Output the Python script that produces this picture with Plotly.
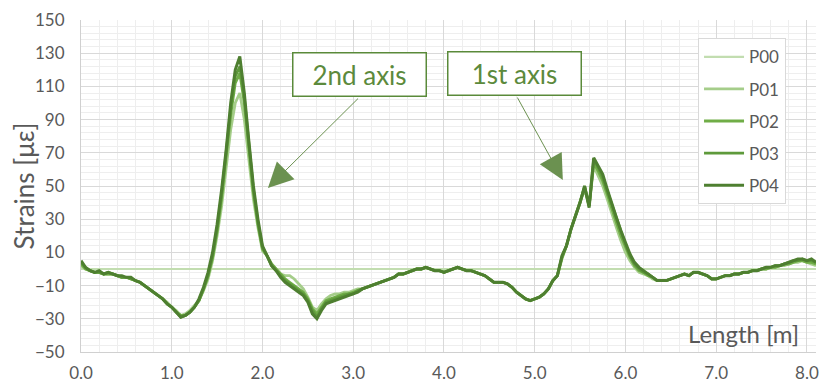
import numpy as np
import plotly.graph_objects as go

# Sampling positions along the beam [m]
LENGTH = np.round(np.arange(0, 8.1001, 0.05), 2)

P04 = [5, 1, -1, -2, -1, -3, -2, -3, -4, -4,
       -5, -5, -7, -8, -10, -12, -14, -16, -18, -21,
       -23, -26, -29, -28, -26, -23, -18, -11, -2, 10,
       27, 48, 72, 100, 120, 128, 106, 77, 50, 30,
       14, 8, 2, -1, -5, -8, -10, -12, -14, -16,
       -20, -27, -30, -25, -21, -20, -19, -18, -17, -16,
       -15, -14, -12, -11, -10, -9, -8, -7, -6, -5,
       -3, -3, -2, -1, 0, 0, 1, 0, -1, -1,
       -2, -1, 0, 1, 0, -1, -1, -2, -3, -4,
       -6, -8, -8, -8, -9, -11, -14, -16, -18, -19,
       -18, -17, -15, -12, -7, -4, 8, 14, 24, 32,
       40, 50, 37, 67, 62, 57, 48, 39, 31, 23,
       16, 9, 4, 1, -1, -3, -5, -7, -7, -7,
       -6, -5, -4, -3, -4, -2, -2, -3, -4, -6,
       -6, -5, -4, -4, -3, -3, -2, -2, -1, -1,
       0, 1, 1, 2, 2, 3, 4, 5, 6, 6,
       5, 6, 4]

P03 = [4, 1, -1, -2, -2, -3, -2, -3, -4, -5,
       -5, -6, -7, -8, -10, -12, -14, -16, -18, -21,
       -23, -26, -29, -28, -26, -23, -19, -12, -4, 8,
       24, 45, 69, 96, 116, 122, 103, 75, 48, 28,
       13, 8, 2, -1, -4, -7, -9, -11, -13, -15,
       -19, -25, -29, -24, -20, -19, -18, -17, -16, -15,
       -15, -13, -12, -11, -10, -9, -8, -7, -6, -5,
       -3, -3, -2, -1, 0, 0, 1, 0, -1, -1,
       -2, -1, 0, 1, 0, -1, -1, -2, -3, -4,
       -6, -8, -8, -8, -9, -11, -14, -16, -18, -19,
       -18, -17, -15, -12, -7, -4, 7, 14, 24, 32,
       40, 50, 38, 66, 61, 55, 47, 38, 30, 22,
       15, 8, 3, 0, -2, -3, -5, -7, -7, -7,
       -6, -5, -4, -3, -4, -2, -2, -3, -4, -6,
       -6, -5, -4, -4, -3, -3, -2, -2, -1, -1,
       0, 1, 1, 2, 2, 3, 4, 5, 5, 6,
       5, 5, 4]

P02 = [3, 0, -1, -2, -2, -3, -3, -3, -4, -5,
       -5, -6, -7, -8, -10, -12, -14, -16, -18, -21,
       -23, -26, -28, -28, -26, -23, -19, -12, -4, 7,
       23, 43, 67, 93, 112, 118, 100, 72, 46, 27,
       12, 8, 3, 0, -3, -6, -8, -10, -12, -14,
       -18, -24, -27, -23, -19, -18, -17, -16, -15, -15,
       -14, -13, -12, -11, -10, -9, -8, -7, -6, -5,
       -3, -3, -2, -1, 0, 0, 1, 0, -1, -1,
       -2, -1, 0, 1, 0, -1, -1, -2, -3, -4,
       -6, -8, -8, -8, -9, -11, -14, -16, -18, -19,
       -18, -17, -15, -12, -7, -4, 7, 14, 24, 32,
       40, 49, 38, 64, 59, 53, 45, 36, 28, 20,
       13, 7, 2, -1, -2, -4, -5, -7, -7, -7,
       -6, -5, -4, -3, -4, -2, -2, -3, -4, -6,
       -6, -5, -4, -4, -3, -3, -2, -2, -1, -1,
       0, 0, 1, 1, 2, 3, 3, 4, 5, 5,
       4, 4, 3]

P01 = [2, 0, -1, -2, -2, -3, -3, -3, -4, -5,
       -5, -6, -7, -8, -10, -12, -14, -16, -18, -20,
       -23, -25, -28, -27, -25, -22, -19, -13, -6, 5,
       20, 38, 60, 84, 100, 106, 90, 65, 42, 25,
       11, 8, 3, 0, -3, -4, -4, -6, -9, -12,
       -17, -23, -25, -21, -18, -16, -15, -15, -14, -14,
       -13, -12, -12, -11, -10, -9, -8, -7, -6, -5,
       -3, -3, -2, -1, 0, 0, 1, 0, -1, -1,
       -2, -1, 0, 1, 0, -1, -1, -2, -3, -4,
       -6, -8, -8, -8, -9, -11, -14, -16, -18, -19,
       -18, -17, -15, -12, -7, -4, 6, 14, 24, 32,
       39, 48, 38, 62, 56, 50, 42, 33, 25, 17,
       10, 5, 1, -2, -3, -4, -6, -7, -7, -7,
       -6, -5, -4, -3, -4, -2, -2, -3, -4, -6,
       -6, -5, -4, -4, -3, -3, -2, -2, -1, -1,
       0, 0, 1, 1, 2, 2, 3, 4, 4, 5,
       4, 3, 2]

P00 = [0.0] * len(LENGTH)  # reference measurement (baseline)

SERIES = ["P00", "P01", "P02", "P03", "P04"]
VALUES = [P00, P01, P02, P03, P04]
COLORS = ["#c2ddb0", "#a5cd8a", "#70ad47", "#5e9a3b", "#4e7f30"]
WIDTHS = [2.2, 2.8, 2.8, 2.8, 3.0]

X_TICKS = [0, 1, 2, 3, 4, 5, 6, 7, 8]
Y_TICKS = [-50, -30, -10, 10, 30, 50, 70, 90, 110, 130, 150]

fig = go.Figure()
for name, vals, col, w in zip(SERIES, VALUES, COLORS, WIDTHS):
    fig.add_trace(go.Scatter(x=LENGTH, y=vals, mode="lines", name=name,
                             legendgroup=name,
                             line=dict(color=col, width=w)))

txt = "#595959"
# page body has an 8px margin, so the figure is sized/margined to compensate
fig.update_layout(
    width=822, height=373,
    margin=dict(l=73, r=14, t=12, b=29),
    plot_bgcolor="white", paper_bgcolor="white",
    font=dict(family="Lato", color=txt),
    legend=dict(x=0.8395, y=0.945, xanchor="left", yanchor="top",
                bordercolor="#d9d9d9", borderwidth=1, bgcolor="white",
                font=dict(size=17, color=txt), tracegroupgap=7,
                itemwidth=40, entrywidth=40),
    xaxis=dict(range=[0, 8.1], tickvals=X_TICKS, tickformat=".1f",
               showgrid=True, gridcolor="#d9d9d9", gridwidth=1,
               minor=dict(dtick=0.2, tick0=0, showgrid=True, gridcolor="#eeeeee"),
               showline=True, linecolor="#d0d0d0", zeroline=False, automargin=False,
               tickfont=dict(size=17, color=txt), ticklabelstandoff=6),
    yaxis=dict(range=[-50, 150], tickvals=Y_TICKS,
               showgrid=True, gridcolor="#d9d9d9", gridwidth=1,
               minor=dict(dtick=4, tick0=-50, showgrid=True, gridcolor="#eeeeee"),
               showline=True, linecolor="#d0d0d0", zeroline=False, automargin=False,
               tickfont=dict(size=17, color=txt), ticklabelstandoff=12,
               title=dict(text="Strains [με]", font=dict(size=26, color=txt), standoff=4)),
)

green_txt = "#5c8a3c"
box_col = "#5a8a3a"
arrow_col = "#6b9150"
# Label boxes
for label, bx, by in [("2nd axis", 3.07, 117.2), ("1st axis", 4.78, 117.8)]:
    fig.add_annotation(x=bx, y=by, xref="x", yref="y", text=label, showarrow=False,
                       font=dict(size=26, color=green_txt, family="Lato"),
                       bordercolor=box_col, borderwidth=1.5, borderpad=2,
                       bgcolor="white", width=128, height=38)
# Arrows
for tail_x, tail_y, tip_x, tip_y in [(3.07, 103.6, 2.06, 48.8), (4.80, 104.2, 5.31, 53.6)]:
    fig.add_annotation(x=tip_x, y=tip_y, ax=tail_x, ay=tail_y, xref="x", yref="y",
                       axref="x", ayref="y", text="", showarrow=True,
                       arrowhead=2, arrowsize=5, arrowwidth=1.0, arrowcolor=arrow_col)

fig.add_annotation(x=7.93, y=-38.6, xref="x", yref="y", text="Length [m]",
                   showarrow=False, xanchor="right",
                   font=dict(size=24, color=txt, family="Lato"))

fig.write_html("out.html")
